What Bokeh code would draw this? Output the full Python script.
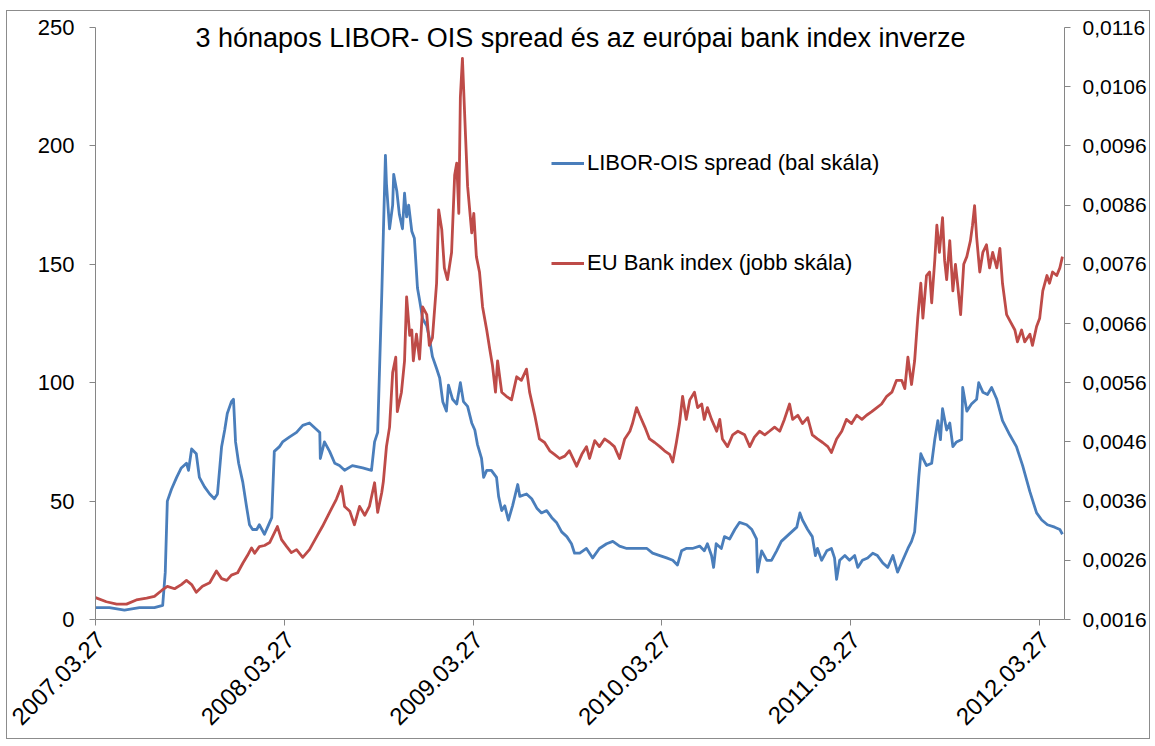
import math
import pandas as pd
from bokeh.plotting import figure
from bokeh.models import (Range1d, LinearAxis, DatetimeAxis, FixedTicker, CustomJSTickFormatter,
                          DatetimeTickFormatter, Legend, LegendItem, Label, ColumnDataSource)
from bokeh.embed import file_html
from bokeh.resources import INLINE

TITLE = "3 hónapos LIBOR- OIS spread és az európai bank index inverze"
START = "2007-03-27"
END_DAYS = 1875
LABEL_SHIFT_DAYS = 10  # date labels end slightly right of their ticks

# LIBOR-OIS spread (bal skála): days since 2007-03-27, basis points
libor_days = [0, 27, 56, 85, 114, 130, 135, 139, 147, 157, 166, 176, 180, 186, 195, 201, 211, 221, 230, 236,
              244, 250, 255, 263, 267, 271, 277, 285, 292, 298, 304, 312, 317, 327, 333, 341, 346, 356, 362, 375,
              389, 401, 414, 424, 434, 435, 443, 453, 463, 472, 482, 497, 517, 534, 540, 546, 554, 557, 561, 563,
              569, 575, 577, 583, 588, 594, 598, 602, 606, 612, 617, 623, 627, 633, 641, 646, 652, 660, 666, 672,
              679, 683, 691, 699, 706, 712, 720, 728, 734, 739, 747, 751, 757, 766, 776, 780, 786, 792, 799, 807,
              817, 821, 834, 844, 854, 863, 873, 883, 892, 902, 912, 921, 927, 937, 950, 962, 975, 989, 1001, 1014,
              1028, 1039, 1053, 1067, 1078, 1092, 1105, 1117, 1126, 1134, 1143, 1155, 1169, 1178, 1184, 1192, 1196, 1201, 1211, 1217,
              1227, 1237, 1246, 1260, 1270, 1279, 1281, 1289, 1299, 1308, 1318, 1327, 1337, 1347, 1357, 1363, 1368, 1378, 1387, 1393,
              1397, 1405, 1415, 1424, 1430, 1434, 1440, 1450, 1459, 1469, 1475, 1484, 1494, 1504, 1513, 1523, 1533, 1543, 1552, 1562,
              1572, 1579, 1585, 1589, 1593, 1597, 1601, 1608, 1618, 1624, 1630, 1635, 1639, 1647, 1653, 1659, 1666, 1676, 1678, 1686,
              1695, 1705, 1709, 1717, 1726, 1734, 1744, 1755, 1769, 1782, 1794, 1808, 1821, 1831, 1842, 1856, 1866, 1871]
libor_values = [5, 5, 4, 5, 5, 6, 20, 50, 55, 60, 64, 66, 63, 72, 70, 60, 56, 53, 51, 53,
                73, 80, 87, 92, 93, 75, 66, 58, 48, 40, 38, 38, 40, 36, 39, 43, 71, 73, 75, 77,
                79, 82, 83, 81, 79, 68, 75, 71, 66, 65, 63, 65, 64, 63, 75, 79, 138, 163, 196, 184,
                165, 175, 188, 181, 171, 165, 180, 170, 175, 164, 161, 140, 135, 127, 124, 119, 111, 106, 102, 92,
                88, 99, 93, 91, 100, 92, 90, 83, 80, 74, 68, 60, 63, 63, 60, 52, 46, 48, 42, 48,
                57, 52, 53, 51, 47, 45, 46, 43, 41, 37, 35, 32, 28, 28, 30, 26, 30, 32, 33, 31,
                30, 30, 30, 30, 28, 27, 26, 25, 23, 29, 30, 30, 31, 29, 32, 27, 22, 32, 30, 35,
                34, 38, 41, 40, 38, 34, 20, 29, 25, 25, 29, 33, 35, 37, 39, 45, 42, 38, 35, 27,
                30, 25, 29, 30, 26, 17, 25, 27, 25, 27, 22, 25, 26, 28, 27, 24, 22, 27, 20, 25,
                30, 33, 37, 48, 60, 70, 68, 65, 66, 76, 84, 76, 89, 80, 83, 73, 75, 76, 98, 88,
                91, 93, 100, 96, 95, 98, 93, 84, 78, 73, 65, 54, 45, 42, 40, 39, 38, 36]

# EU Bank index inverze (jobb skála): days since 2007-03-27, 1/index
bank_days = [0, 21, 41, 60, 79, 99, 114, 128, 139, 153, 166, 176, 186, 195, 207, 221, 234, 244, 254, 263,
             275, 285, 294, 302, 308, 317, 327, 337, 352, 360, 370, 379, 389, 401, 414, 428, 439, 453, 466, 476,
             482, 492, 501, 511, 521, 530, 540, 546, 554, 557, 563, 569, 575, 581, 584, 592, 598, 602, 608, 612,
             615, 621, 627, 633, 641, 646, 652, 660, 664, 670, 675, 681, 689, 695, 699, 703, 706, 710, 716, 720,
             728, 732, 737, 743, 749, 757, 763, 768, 774, 778, 786, 795, 805, 815, 824, 834, 840, 850, 859, 869,
             879, 888, 898, 908, 917, 931, 941, 950, 956, 966, 975, 985, 995, 1004, 1014, 1024, 1034, 1039, 1047, 1053,
             1063, 1072, 1082, 1092, 1101, 1111, 1117, 1124, 1130, 1136, 1143, 1150, 1159, 1165, 1173, 1178, 1184, 1192, 1202, 1208,
             1213, 1223, 1233, 1243, 1256, 1266, 1275, 1285, 1295, 1304, 1314, 1324, 1333, 1343, 1349, 1359, 1368, 1378, 1387, 1397,
             1407, 1417, 1424, 1434, 1444, 1453, 1463, 1473, 1483, 1492, 1502, 1512, 1521, 1531, 1541, 1550, 1560, 1566, 1572, 1579,
             1585, 1591, 1597, 1601, 1608, 1614, 1618, 1624, 1628, 1633, 1639, 1643, 1647, 1653, 1659, 1664, 1668, 1674, 1680, 1686,
             1693, 1697, 1701, 1705, 1711, 1717, 1724, 1730, 1736, 1744, 1750, 1755, 1763, 1771, 1779, 1784, 1792, 1798, 1808, 1813,
             1821, 1827, 1833, 1841, 1846, 1852, 1860, 1866, 1871]
bank_values = [0.00197, 0.00190, 0.00186, 0.00186, 0.00193, 0.00196, 0.00199, 0.00209, 0.00216, 0.00212,
               0.00219, 0.00226, 0.00219, 0.00206, 0.00216, 0.00222, 0.00242, 0.00229, 0.00226, 0.00235,
               0.00239, 0.00255, 0.00268, 0.00281, 0.00272, 0.00283, 0.00285, 0.00290, 0.00317, 0.00295,
               0.00283, 0.00273, 0.00278, 0.00265, 0.00278, 0.00300, 0.00317, 0.00341, 0.00363, 0.00385,
               0.00351, 0.00343, 0.00320, 0.00351, 0.00336, 0.00351, 0.00391, 0.00341, 0.00375, 0.00393,
               0.00452, 0.00485, 0.00577, 0.00603, 0.00511, 0.00544, 0.00597, 0.00705, 0.00640, 0.00649,
               0.00597, 0.00642, 0.00600, 0.00688, 0.00675, 0.00623, 0.00636, 0.00728, 0.00852, 0.00819,
               0.00754, 0.00734, 0.00780, 0.00911, 0.00931, 0.00846, 0.01042, 0.01108, 0.00977, 0.00892,
               0.00813, 0.00846, 0.00773, 0.00747, 0.00688, 0.00649, 0.00616, 0.00590, 0.00544, 0.00597,
               0.00544, 0.00537, 0.00531, 0.00570, 0.00564, 0.00583, 0.00544, 0.00505, 0.00465, 0.00459,
               0.00445, 0.00439, 0.00432, 0.00436, 0.00445, 0.00419, 0.00439, 0.00452, 0.00432, 0.00462,
               0.00452, 0.00465, 0.00459, 0.00452, 0.00432, 0.00465, 0.00478, 0.00491, 0.00518, 0.00505,
               0.00485, 0.00465, 0.00459, 0.00452, 0.00445, 0.00439, 0.00426, 0.00459, 0.00491, 0.00537,
               0.00498, 0.00531, 0.00544, 0.00518, 0.00524, 0.00498, 0.00518, 0.00498, 0.00478, 0.00498,
               0.00465, 0.00452, 0.00472, 0.00478, 0.00472, 0.00452, 0.00468, 0.00478, 0.00472, 0.00478,
               0.00485, 0.00478, 0.00498, 0.00524, 0.00498, 0.00505, 0.00491, 0.00501, 0.00472, 0.00465,
               0.00459, 0.00452, 0.00442, 0.00465, 0.00478, 0.00498, 0.00491, 0.00505, 0.00498, 0.00505,
               0.00511, 0.00518, 0.00524, 0.00537, 0.00544, 0.00564, 0.00564, 0.00550, 0.00603, 0.00557,
               0.00597, 0.00669, 0.00728, 0.00669, 0.00741, 0.00747, 0.00695, 0.00767, 0.00826, 0.00780,
               0.00839, 0.00767, 0.00734, 0.00800, 0.00715, 0.00760, 0.00728, 0.00675, 0.00760, 0.00773,
               0.00800, 0.00826, 0.00859, 0.00806, 0.00747, 0.00780, 0.00793, 0.00754, 0.00780, 0.00754,
               0.00787, 0.00728, 0.00675, 0.00662, 0.00649, 0.00629, 0.00649, 0.00629, 0.00642, 0.00623,
               0.00655, 0.00669, 0.00715, 0.00741, 0.00728, 0.00747, 0.00741, 0.00754, 0.00773]

tick_dates = ["2007-03-27", "2008-03-27", "2009-03-27", "2010-03-27", "2011-03-27", "2012-03-27"]
left_ticks = [0, 50, 100, 150, 200, 250]
right_ticks = [0.0016, 0.0026, 0.0036, 0.0046, 0.0056, 0.0066, 0.0076, 0.0086, 0.0096, 0.0106, 0.0116]

LEGEND_LIBOR = "LIBOR-OIS spread (bal skála)"
LEGEND_BANK = "EU Bank index (jobb skála)"
BLUE = "#4A7EBB"
RED = "#BE4B48"
FONT = "Liberation Sans"
AXIS_GREY = "#868686"

start = pd.Timestamp(START)
end = start + pd.Timedelta(days=END_DAYS)
libor_src = ColumnDataSource(dict(date=start + pd.to_timedelta(libor_days, unit="D"), v=libor_values))
bank_src = ColumnDataSource(dict(date=start + pd.to_timedelta(bank_days, unit="D"), v=bank_values))
tick_ms = [pd.Timestamp(d).value / 1e6 for d in tick_dates]

p = figure(x_axis_type="datetime",
           x_range=Range1d(start, end),
           y_range=Range1d(0, 250),
           frame_width=969, frame_height=592,
           min_border_left=88, min_border_right=84, min_border_top=16, min_border_bottom=119,
           output_backend="svg", toolbar_location=None,
           background_fill_color="white", border_fill_color="white")
shift = pd.Timedelta(days=LABEL_SHIFT_DAYS)
p.extra_x_ranges = {"labels": Range1d(start - shift, end - shift)}
p.extra_y_ranges = {"right": Range1d(right_ticks[0], right_ticks[-1])}
p.outline_line_color = None
p.grid.visible = False

r_libor = p.line("date", "v", source=libor_src, line_color=BLUE, line_width=2.8, line_join="round")
r_bank = p.line("date", "v", source=bank_src, y_range_name="right", line_color=RED, line_width=2.8, line_join="round")

right_axis = LinearAxis(y_range_name="right")
p.add_layout(right_axis, "right")


def style_axis(ax, size="22px"):
    ax.axis_line_color = AXIS_GREY
    ax.axis_line_width = 1
    ax.major_tick_line_color = AXIS_GREY
    ax.major_tick_out = 6
    ax.major_tick_in = 0
    ax.minor_tick_line_color = None
    ax.major_label_text_font = FONT
    ax.major_label_text_font_size = size
    ax.major_label_text_color = "#000000"


left_axis = p.yaxis[0]
style_axis(left_axis)
left_axis.ticker = FixedTicker(ticks=left_ticks)
left_axis.major_label_standoff = 15

style_axis(right_axis, "21px")
right_axis.ticker = FixedTicker(ticks=right_ticks)
right_axis.formatter = CustomJSTickFormatter(code="return tick.toFixed(4).replace('.', ',');")
right_axis.major_label_standoff = 12

# axis line and ticks
xaxis = p.xaxis[0]
style_axis(xaxis)
xaxis.ticker = FixedTicker(ticks=tick_ms)
xaxis.formatter = CustomJSTickFormatter(code="return '';")
xaxis.major_label_standoff = 0

# rotated date labels (slightly right of the ticks, as in the reference)
fmt = "%Y.%m.%d"
label_axis = DatetimeAxis(x_range_name="labels")
style_axis(label_axis, "24px")
label_axis.axis_line_color = None
label_axis.major_tick_line_color = None
label_axis.major_tick_out = 0
label_axis.ticker = FixedTicker(ticks=tick_ms)
label_axis.formatter = DatetimeTickFormatter(days=fmt, months=fmt, years=fmt, hours=fmt, minutes=fmt,
                                             seconds=fmt, milliseconds=fmt, microseconds=fmt,
                                             hourmin=fmt, minsec=fmt)
label_axis.major_label_orientation = math.pi / 4
label_axis.major_label_standoff = 10
p.add_layout(label_axis, "below")

p.add_layout(Label(x=485, y=582, x_units="screen", y_units="screen", text=TITLE,
                   text_font=FONT, text_font_size="27px", text_color="#000000",
                   text_align="center", text_baseline="middle"))

legend = Legend(items=[LegendItem(label=LEGEND_LIBOR, renderers=[r_libor]),
                       LegendItem(label=LEGEND_BANK, renderers=[r_bank])],
                location=(456, 343), orientation="vertical", spacing=74,
                glyph_width=33, glyph_height=22, label_height=22, label_standoff=3,
                padding=0, margin=0, border_line_color=None, background_fill_alpha=0,
                label_text_font=FONT, label_text_font_size="22px", label_text_color="#000000")
p.add_layout(legend)

p.styles = {"border": "1px solid #8c8c8c", "margin-left": "6px", "margin-top": "10px"}

open("out.html", "w").write(file_html(p, INLINE))
